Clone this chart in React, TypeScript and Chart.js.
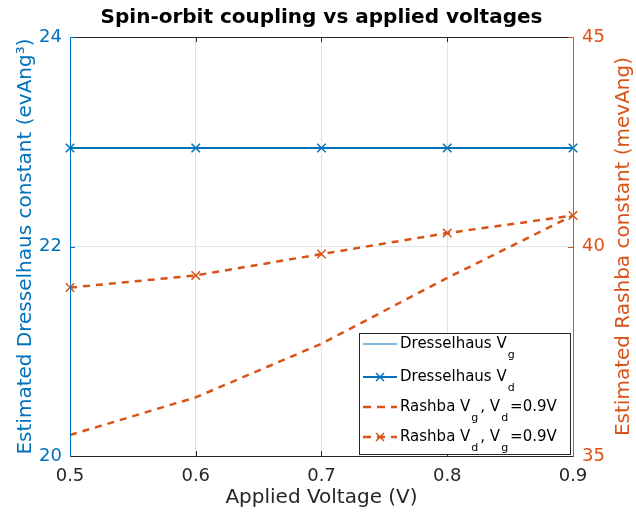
import React, { useEffect, useRef } from "react";
import { Chart, registerables } from "chart.js";

Chart.register(...registerables);

// ---- data ----
const voltages = [0.5, 0.6, 0.7, 0.8, 0.9];
const dresselhausVg = [22.94, 22.94, 22.94, 22.94, 22.94];
const dresselhausVd = [22.94, 22.94, 22.94, 22.94, 22.94];
const rashbaVg = [35.5, 36.4, 37.68, 39.25, 40.74];
const rashbaVd = [39.02, 39.31, 39.82, 40.32, 40.74];

const xTicks = [0.5, 0.6, 0.7, 0.8, 0.9];
const leftTicks = [20, 22, 24];
const rightTicks = [35, 40, 45];

const titleText = "Spin-orbit coupling vs applied voltages";
const xTitle = "Applied Voltage (V)";
const leftTitle = "Estimated Dresselhaus constant (evAng\u00B3)";
const rightTitle = "Estimated Rashba constant (mevAng)";

type Part = [string, boolean];
const legendRows: { parts: Part[] }[] = [
  { parts: [["Dresselhaus V", false], ["g", true]] },
  { parts: [["Dresselhaus V", false], ["d", true]] },
  { parts: [["Rashba V", false], ["g", true], [", V", false], ["d", true], ["=0.9V", false]] },
  { parts: [["Rashba V", false], ["d", true], [", V", false], ["g", true], ["=0.9V", false]] },
];

const BLUE = "#0072BD";
const ORANGE = "#D95319";
const DARK = "#262626";
const FONT = "'DejaVu Sans', sans-serif";

const pts = (ys: number[]) => voltages.map((x, i) => ({ x, y: ys[i] }));

function drawCross(ctx: CanvasRenderingContext2D, x: number, y: number, r: number) {
  ctx.beginPath();
  ctx.moveTo(x - r, y - r);
  ctx.lineTo(x + r, y + r);
  ctx.moveTo(x - r, y + r);
  ctx.lineTo(x + r, y - r);
  ctx.stroke();
}

const framePlugin = {
  id: "frame",
  afterDatasetsDraw(chart: any) {
    const { ctx, chartArea: a, scales } = chart;
    ctx.save();
    // top border
    ctx.strokeStyle = DARK;
    ctx.lineWidth = 1;
    ctx.beginPath();
    ctx.moveTo(a.left, a.top + 0.5);
    ctx.lineTo(a.right, a.top + 0.5);
    ctx.stroke();
    // inward x ticks
    const tl = 5;
    xTicks.forEach((v) => {
      const px = Math.round(scales.x.getPixelForValue(v)) + 0.5;
      ctx.beginPath();
      ctx.moveTo(px, a.bottom);
      ctx.lineTo(px, a.bottom - tl);
      ctx.moveTo(px, a.top);
      ctx.lineTo(px, a.top + tl);
      ctx.stroke();
    });
    ctx.strokeStyle = BLUE;
    leftTicks.forEach((v) => {
      const py = Math.round(scales.y.getPixelForValue(v)) + 0.5;
      ctx.beginPath();
      ctx.moveTo(a.left, py);
      ctx.lineTo(a.left + tl, py);
      ctx.stroke();
    });
    ctx.strokeStyle = ORANGE;
    rightTicks.forEach((v) => {
      const py = Math.round(scales.y1.getPixelForValue(v)) + 0.5;
      ctx.beginPath();
      ctx.moveTo(a.right, py);
      ctx.lineTo(a.right - tl, py);
      ctx.stroke();
    });

    // legend
    const bx = a.right - 214;
    const by = a.bottom - 123;
    const bw = 211;
    const bh = 121;
    ctx.fillStyle = "#ffffff";
    ctx.fillRect(bx, by, bw, bh);
    ctx.strokeStyle = DARK;
    ctx.lineWidth = 1;
    ctx.strokeRect(bx + 0.5, by + 0.5, bw, bh);
    const rowYs = [by + 11, by + 44, by + 74, by + 104];
    const lx0 = bx + 4;
    const lx1 = bx + 38;
    const styles = [
      { color: BLUE, width: 1, dash: [] as number[], marker: false },
      { color: BLUE, width: 2, dash: [] as number[], marker: true },
      { color: ORANGE, width: 2.5, dash: [8, 6], marker: false },
      { color: ORANGE, width: 2.5, dash: [8, 6], marker: true },
    ];
    legendRows.forEach((row, i) => {
      const y = rowYs[i];
      const s = styles[i];
      ctx.strokeStyle = s.color;
      ctx.lineWidth = s.width;
      ctx.setLineDash(s.dash);
      ctx.beginPath();
      ctx.moveTo(lx0, y);
      ctx.lineTo(lx1, y);
      ctx.stroke();
      ctx.setLineDash([]);
      if (s.marker) {
        ctx.lineWidth = 1.5;
        drawCross(ctx, (lx0 + lx1) / 2, y, 4);
      }
      let cx = lx1 + 3;
      ctx.fillStyle = "#000000";
      ctx.textBaseline = "middle";
      ctx.textAlign = "left";
      row.parts.forEach(([t, sub]) => {
        ctx.font = sub ? `11px ${FONT}` : `15px ${FONT}`;
        if (sub) cx += 1;
        ctx.fillText(t, cx, sub ? y + 11 : y);
        cx += ctx.measureText(t).width + (sub ? 2 : 0);
      });
    });

    // right axis title (reads bottom-to-top)
    ctx.save();
    ctx.translate(624, (a.top + a.bottom) / 2);
    ctx.rotate(-Math.PI / 2);
    ctx.fillStyle = ORANGE;
    ctx.font = `20px ${FONT}`;
    ctx.textAlign = "center";
    ctx.textBaseline = "middle";
    ctx.fillText(rightTitle, 0, 0);
    ctx.restore();

    ctx.restore();
  },
};

export default function App() {
  const ref = useRef<HTMLCanvasElement | null>(null);

  useEffect(() => {
    if (!ref.current) return;
    Chart.defaults.font.family = FONT;
    const chart = new Chart(ref.current, {
      type: "line",
      data: {
        datasets: [
          {
            label: "Dresselhaus Vg",
            data: pts(dresselhausVg),
            yAxisID: "y",
            borderColor: BLUE,
            borderWidth: 1,
            pointRadius: 0,
            fill: false,
            clip: false as any,
          },
          {
            label: "Dresselhaus Vd",
            data: pts(dresselhausVd),
            yAxisID: "y",
            borderColor: BLUE,
            backgroundColor: BLUE,
            borderWidth: 2,
            pointStyle: "crossRot",
            pointRadius: 6,
            pointBorderWidth: 1.5,
            pointBorderColor: BLUE,
            fill: false,
            clip: false as any,
          },
          {
            label: "Rashba Vg, Vd=0.9V",
            data: pts(rashbaVg),
            yAxisID: "y1",
            borderColor: ORANGE,
            borderWidth: 2.5,
            borderDash: [7, 6],
            pointRadius: 0,
            fill: false,
            clip: false as any,
          },
          {
            label: "Rashba Vd, Vg=0.9V",
            data: pts(rashbaVd),
            yAxisID: "y1",
            borderColor: ORANGE,
            backgroundColor: ORANGE,
            borderWidth: 2.5,
            borderDash: [7, 6],
            pointStyle: "crossRot",
            pointRadius: 6,
            pointBorderWidth: 1.5,
            pointBorderColor: ORANGE,
            fill: false,
            clip: false as any,
          },
        ],
      },
      options: {
        animation: false,
        responsive: false,
        layout: { padding: 0 },
        plugins: {
          legend: { display: false },
          tooltip: { enabled: false },
          title: {
            display: true,
            text: titleText,
            color: "#000000",
            font: { size: 20, weight: "bold", family: FONT },
            padding: { top: 6, bottom: 7 },
            fullSize: false,
          },
        },
        scales: {
          x: {
            type: "linear",
            min: 0.5,
            max: 0.9,
            afterFit: (s: any) => {
              s.height = 57;
            },
            afterBuildTicks: (s: any) => {
              s.ticks = xTicks.map((v) => ({ value: v }));
            },
            ticks: {
              color: DARK,
              font: { size: 18, family: FONT },
              padding: 10,
              maxRotation: 0,
              autoSkip: false,
              callback: (v: any) => Number(v).toFixed(1),
            },
            grid: { color: "#e2e2e2", drawTicks: false, lineWidth: 1 },
            border: { color: DARK, width: 1, z: 1 },
            title: {
              display: true,
              text: xTitle,
              color: DARK,
              font: { size: 20, family: FONT },
              padding: { top: 0, bottom: 3 },
            },
          },
          y: {
            type: "linear",
            position: "left",
            min: 20,
            max: 24,
            afterFit: (s: any) => {
              s.width = 70;
            },
            afterBuildTicks: (s: any) => {
              s.ticks = leftTicks.map((v) => ({ value: v }));
            },
            ticks: {
              color: BLUE,
              font: { size: 18, family: FONT },
              padding: 8,
              callback: (v: any) => String(v),
            },
            grid: { color: "#dbe7f1", drawTicks: false, lineWidth: 1 },
            border: { color: BLUE, width: 1, z: 1 },
            title: {
              display: true,
              text: leftTitle,
              color: BLUE,
              font: { size: 20, family: FONT },
              padding: { top: 14, bottom: 0 },
            },
          },
          y1: {
            type: "linear",
            position: "right",
            min: 35,
            max: 45,
            afterFit: (s: any) => {
              s.width = 63;
            },
            afterBuildTicks: (s: any) => {
              s.ticks = rightTicks.map((v) => ({ value: v }));
            },
            ticks: {
              color: ORANGE,
              font: { size: 18, family: FONT },
              padding: 9,
              callback: (v: any) => String(v),
            },
            grid: { display: false, drawTicks: false },
            border: { color: ORANGE, width: 1, z: 1 },
          },
        },
      } as any,
      plugins: [framePlugin],
    });
    return () => chart.destroy();
  }, []);

  return (
    <div style={{ position: "absolute", left: 0, top: 0, width: 636, height: 513, background: "#ffffff" }}>
      <canvas ref={ref} width={636} height={513} />
    </div>
  );
}
